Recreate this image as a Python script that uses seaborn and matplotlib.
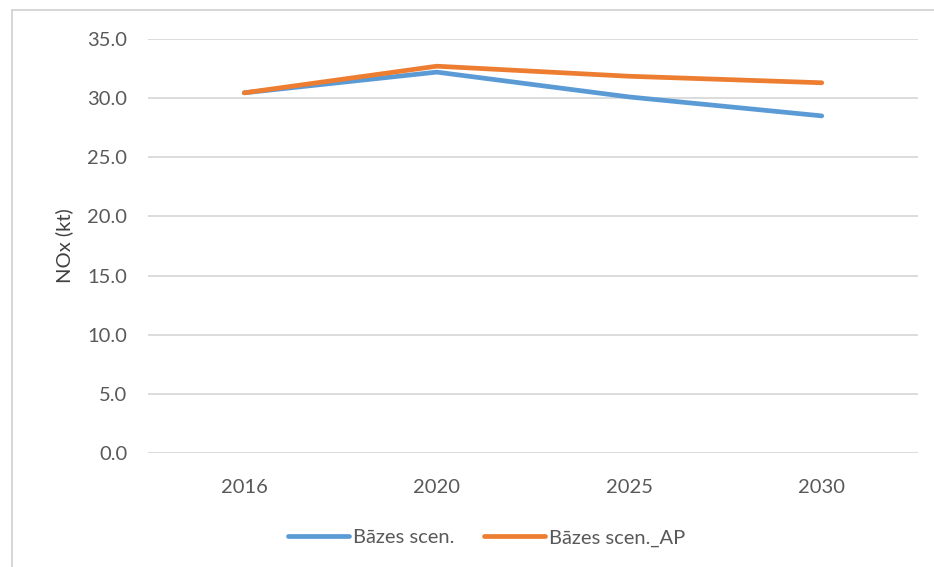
import matplotlib
matplotlib.use("Agg")
import matplotlib.pyplot as plt
import seaborn as sns
import pandas as pd
from matplotlib.patches import Rectangle

years = ["2016", "2020", "2025", "2030"]
base = [30.45, 32.2, 30.1, 28.5]
base_ap = [30.45, 32.7, 31.85, 31.3]
series_names = ["Bāzes scen.", "Bāzes scen._AP"]
yticks = [0, 5, 10, 15, 20, 25, 30, 35]

df = pd.DataFrame({
    "year": years * 2,
    "value": base + base_ap,
    "series": [series_names[0]] * 4 + [series_names[1]] * 4,
})

sns.set_theme(style="white")
plt.rcParams["font.family"] = ["Lato", "DejaVu Sans"]

W, H = 934, 567
fig = plt.figure(figsize=(W / 100, H / 100), dpi=100)
ax = fig.add_axes([148 / W, 1 - 453 / H, (918 - 148) / W, (453 - 39) / H])

sns.lineplot(data=df, x="year", y="value", hue="series", sort=False,
             palette=["#5B9BD5", "#ED7D31"], linewidth=3.4, ax=ax,
             legend=True)

ax.set_xlim(-0.5, 3.5)
ax.set_ylim(0, 35)
ax.set_yticks(yticks)
ax.set_yticklabels([f"{v:.1f}" for v in yticks])
ax.yaxis.grid(True, color="#D9D9D9", linewidth=1.3)
ax.set_axisbelow(True)
for s in ax.spines.values():
    s.set_visible(False)
ax.tick_params(axis="both", length=0, labelsize=14.5, colors="#595959")
ax.tick_params(axis="y", pad=15)
ax.tick_params(axis="x", pad=19)
ax.set_xlabel("")
ax.set_ylabel("NOx (kt)", fontsize=14.5, color="#404040", labelpad=10)

leg = ax.legend(loc="center", bbox_to_anchor=(0.44, -0.205), ncol=2,
                frameon=False, fontsize=14.5, handlelength=3.0,
                handletextpad=0.2, columnspacing=1.5)
for t in leg.get_texts():
    t.set_color("#595959")
for l in leg.get_lines():
    l.set_linewidth(3.4)

fig.patches.append(Rectangle((12 / W, -0.1), 1.2, 1.1 - 10 / H, transform=fig.transFigure,
                             fill=False, edgecolor="#D0D0D0", linewidth=1.2))

fig.savefig("out.png", dpi=100)
